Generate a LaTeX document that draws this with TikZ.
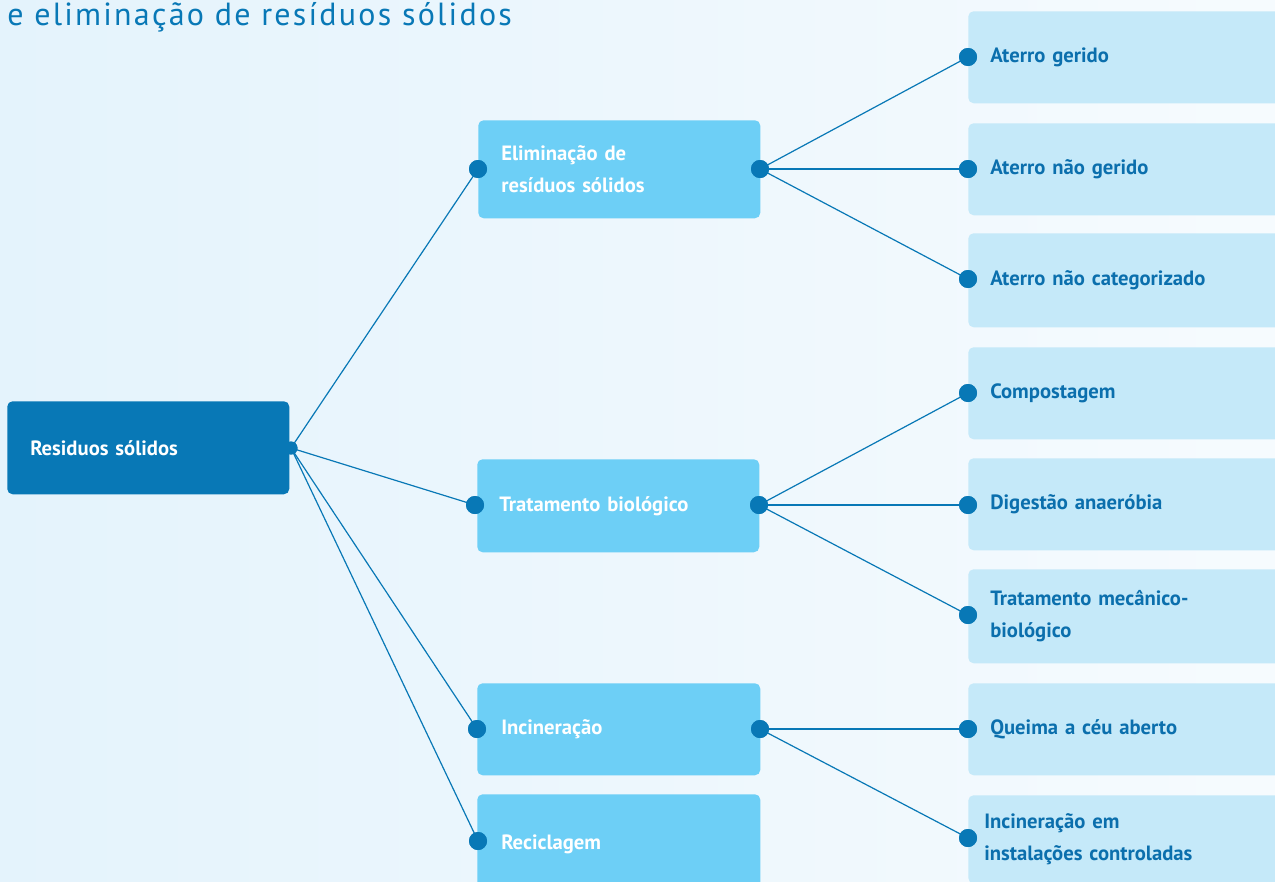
\documentclass[tikz,border=0pt]{standalone}
\usepackage{fontspec}
\setmainfont{PT Sans}
\newfontfamily\titlefont[LetterSpace=7]{PT Sans}
\usetikzlibrary{positioning}
\definecolor{dark}{HTML}{0878B6}
\definecolor{mid}{HTML}{6DCFF6}
\definecolor{leaf}{HTML}{C5E9F9}
\definecolor{ink}{HTML}{0B6FAD}
\definecolor{bgl}{HTML}{E4F3FC}
\definecolor{bgr}{HTML}{F6FBFE}
\begin{document}
\begin{tikzpicture}[x=0.75pt,y=-0.75pt,
  box/.style={anchor=north west, rounded corners=4pt, draw=none, inner ysep=0pt,
     font=\bfseries\fontsize{15.5pt}{24pt}\selectfont, align=left},
  rootbox/.style={box, fill=dark, text=white, minimum width=282*0.75pt, minimum height=93*0.75pt,
     inner xsep=23*0.75pt, text width=236*0.75pt},
  midbox/.style={box, fill=mid, text=white, minimum width=282*0.75pt,
     inner xsep=23*0.75pt, text width=236*0.75pt},
  leafbox/.style={box, fill=leaf, text=ink, minimum width=330*0.75pt,
     inner xsep=22*0.75pt, text width=286*0.75pt},
  dot/.style={circle, fill=dark, draw=none, minimum size=18*0.75pt, inner sep=0pt},
  rdot/.style={circle, fill=dark, draw=none, minimum size=13*0.75pt, inner sep=0pt},
  link/.style={draw=dark, line width=0.9pt}]
\useasboundingbox (0,0) rectangle (1275,882);
\clip (0,0) rectangle (1275,882);
\shade[left color=bgl, right color=bgr] (0,0) rectangle (1275,882);

\node[anchor=base west, inner sep=0pt, text=dark, font=\titlefont\fontsize{24pt}{28pt}\selectfont] (title) at (7,25) {e eliminação de resíduos sólidos};

% root
\node[rootbox] (root) at (7,401) {Residuos sólidos};
\node[rdot] (r) at (291,448) {};

% middle
\node[midbox, minimum height=98*0.75pt] (m1) at (478,120) {Eliminação de\\resíduos sólidos};
\node[midbox, minimum height=93*0.75pt, inner xsep=22*0.75pt, text width=238*0.75pt] (m2) at (477,459) {Tratamento biológico};
\node[midbox, minimum height=92*0.75pt, inner xsep=24*0.75pt, text width=235*0.75pt] (m3) at (477,683) {Incineração};
\node[midbox, minimum height=100*0.75pt, inner xsep=24*0.75pt, text width=235*0.75pt] (m4) at (477,794) {Reciclagem};

\node[dot] (m1l) at (478,169) {};
\node[dot] (m1r) at (760,169) {};
\node[dot] (m2l) at (475,505) {};
\node[dot] (m2r) at (759,505) {};
\node[dot] (m3l) at (477,729) {};
\node[dot] (m3r) at (760,729) {};
\node[dot] (m4l) at (478,841) {};

% leaves
\node[leafbox, minimum height=92*0.75pt] (l1) at (968,11) {Aterro gerido};
\node[leafbox, minimum height=92*0.75pt] (l2) at (968,123) {Aterro não gerido};
\node[leafbox, minimum height=94*0.75pt] (l3) at (968,233) {Aterro não categorizado};
\node[leafbox, minimum height=92*0.75pt] (l4) at (968,347) {Compostagem};
\node[leafbox, minimum height=92*0.75pt] (l5) at (968,458) {Digestão anaeróbia};
\node[leafbox, minimum height=94*0.75pt] (l6) at (968,569) {Tratamento mecânico-\\biológico};
\node[leafbox, minimum height=92*0.75pt] (l7) at (968,683) {Queima a céu aberto};
\node[leafbox, minimum height=88*0.75pt, inner xsep=16*0.75pt, text width=298*0.75pt] (l8) at (968,795) {Incineração em\\instalações controladas};

\node[dot] (d1) at (968,57) {};
\node[dot] (d2) at (968,169) {};
\node[dot] (d3) at (968,279) {};
\node[dot] (d4) at (968,393) {};
\node[dot] (d5) at (968,505) {};
\node[dot] (d6) at (968,615) {};
\node[dot] (d7) at (968,729) {};
\node[dot] (d8) at (968,838) {};

% connectors
\draw[link] (r.center) -- (m1l.center);
\draw[link] (r.center) -- (m2l.center);
\draw[link] (r.center) -- (m3l.center);
\draw[link] (r.center) -- (m4l.center);
\draw[link] (m1r.center) -- (d1.center);
\draw[link] (m1r.center) -- (d2.center);
\draw[link] (m1r.center) -- (d3.center);
\draw[link] (m2r.center) -- (d4.center);
\draw[link] (m2r.center) -- (d5.center);
\draw[link] (m2r.center) -- (d6.center);
\draw[link] (m3r.center) -- (d7.center);
\draw[link] (m3r.center) -- (d8.center);

% redraw dots over lines
\foreach \n in {m1l,m1r,m2l,m2r,m3l,m3r,m4l,d1,d2,d3,d4,d5,d6,d7,d8}
  \fill[dark] (\n) circle[radius=9*0.75pt];
\fill[dark] (r) circle[radius=6.5*0.75pt];
\end{tikzpicture}
\end{document}
